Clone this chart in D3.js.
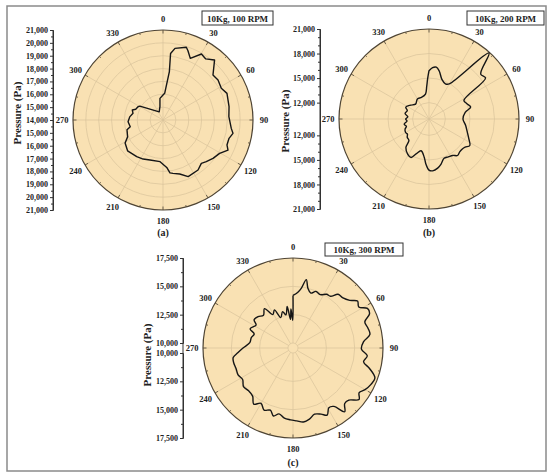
<!DOCTYPE html>
<html>
<head>
<meta charset="utf-8">
<script src="https://cdn.jsdelivr.net/npm/d3@7"></script>
<style>
  body { margin: 0; background: #fff; }
  svg text { font-family: "Liberation Serif", "DejaVu Serif", serif; font-weight: bold; fill: #222; }
</style>
</head>
<body>
<div id="chart"></div>
<script>
// angle labels shared by all three dials
const angleLabels = [0, 30, 60, 90, 120, 150, 180, 210, 240, 270, 300, 330];

// (a) 10Kg, 100 RPM
const anglesA = [0, 3.6, 7.5, 6.5, 9.5, 17.8, 19.8, 23.9, 30.2, 35, 40.7, 48, 54, 61.5, 67.4, 78.6, 87, 97, 100.8, 105.5, 111.3, 114.8, 120.5, 127.5, 133.9, 138.5, 145, 156, 162.8, 169.4, 172.5, 175.5, 184, 198, 207, 215.6, 229, 238.7, 244.5, 254.8, 258.4, 267, 275.4, 282.6, 288, 291.4, 298, 301, 335, 347, 352, 360];
const pressureA = [15950, 16080, 17800, 19200, 19650, 19940, 19730, 19240, 19940, 19800, 20150, 19230, 19290, 19160, 19390, 19240, 19130, 19350, 19540, 19330, 19340, 19570, 19110, 18900, 18670, 18500, 18750, 18820, 18400, 18220, 18150, 17700, 17250, 17270, 17410, 17510, 17650, 17450, 17050, 16900, 16600, 16720, 16600, 16390, 16510, 16280, 16200, 16100, 14700, 15060, 15700, 15950];
const ringsA = [15000, 16000, 17000, 18000, 19000, 20000];
const ticksA = [14000, 15000, 16000, 17000, 18000, 19000, 20000, 21000];
const minorA = [14500, 15500, 16500, 17500, 18500, 19500, 20500];

// (b) 10Kg, 200 RPM
const anglesB = [0, 4, 8, 12, 18, 25, 30, 42.3, 49, 54, 62, 68, 74, 79.5, 90, 100, 108, 116.6, 123, 128, 132, 137, 142, 147, 153, 159, 165, 170, 176, 180, 184, 187, 194, 200, 205, 211, 219, 223, 230, 235, 240, 247, 252, 258, 265, 270, 276, 283, 291, 297, 307, 318, 330, 341, 352, 356, 358, 360];
const pressureB = [15900, 16300, 16400, 16000, 15100, 14750, 14950, 20900, 18370, 18550, 14830, 15000, 15300, 14500, 14150, 14550, 14900, 15450, 15950, 15600, 15480, 15500, 15660, 15310, 15200, 15140, 15700, 16100, 16350, 16250, 15500, 14730, 14000, 14500, 15190, 15030, 14490, 13600, 13470, 13220, 13300, 13180, 12900, 13100, 12700, 12850, 12600, 13000, 12840, 13190, 12820, 12450, 12830, 12800, 13080, 14000, 14900, 15900];
const ringsB = [12000, 15000, 18000];
const ticksB = [12000, 15000, 18000, 21000];
const minorB = [13000, 14000, 16000, 17000, 19000, 20000];

// (c) 10Kg, 300 RPM
const anglesC = [0, 5, 8, 11, 14, 18, 22, 27, 32, 36, 40, 45, 50, 54, 58, 62, 66, 70, 75, 80, 85, 91, 96, 101, 105, 110, 115, 120, 124, 128, 133, 137, 141, 145, 149, 153, 157, 162, 167, 172, 177, 182, 187, 192, 196, 200, 205, 210, 215, 220, 226, 232, 238, 244, 250, 256, 261, 265, 270, 277, 284, 290, 294, 302, 306, 312, 318, 324, 329, 334, 338, 344, 348, 352, 355, 357, 359.5, 360];
const pressureC = [14200, 14500, 14900, 15700, 15000, 14650, 14950, 14850, 15150, 15200, 15750, 15800, 16100, 16600, 16400, 17000, 16950, 16300, 16400, 16450, 15800, 15600, 16150, 15900, 16550, 17250, 17150, 16900, 16600, 16950, 16300, 16250, 16800, 15850, 15700, 16200, 15900, 15700, 16000, 16150, 16000, 15900, 15800, 15500, 15800, 15400, 15600, 15200, 15600, 15100, 15000, 15100, 14800, 14950, 14900, 14950, 14900, 14450, 13970, 13400, 13350, 13200, 13700, 13400, 13800, 13700, 13450, 13850, 13000, 13300, 12450, 12900, 12550, 13250, 12100, 13000, 12000, 14200];
const ringsC = [12500, 15000];
const ticksC = [10000, 12500, 15000, 17500];
const minorC = [11250, 13750, 16250];

const width = 550;
const height = 476;
const fmt = d3.format(",");

const svg = d3
  .select("#chart")
  .append("svg")
  .attr("width", width)
  .attr("height", height);

// outer frame
svg
  .append("rect")
  .attr("x", 7)
  .attr("y", 6)
  .attr("width", 539)
  .attr("height", 465)
  .attr("fill", "none")
  .attr("stroke", "#8a8a8a")
  .attr("stroke-width", 1.5);

function drawPanel({
  cx, cy, outer = 90, inner = 0, domain, rings, ticks, minor,
  angles, values, curve, axisX, titleX, titleY, legend, legendBox, tag, tagY,
}) {
  const g = svg.append("g");
  const r = d3.scaleLinear().domain(domain).range([inner, outer]);

  const dial = g.append("g").attr("transform", `translate(${cx},${cy})`);

  dial
    .append("circle")
    .attr("r", outer)
    .attr("fill", "#f9e1b3");

  // grid rings
  dial
    .selectAll("circle.ring")
    .data(rings)
    .join("circle")
    .attr("class", "ring")
    .attr("r", (d) => r(d))
    .attr("fill", "none")
    .attr("stroke", "#d8c39b")
    .attr("stroke-width", 0.7);

  if (inner > 0) {
    dial
      .append("circle")
      .attr("r", inner)
      .attr("fill", "none")
      .attr("stroke", "#d8c39b")
      .attr("stroke-width", 0.7);
  }

  // spokes
  const toRad = (a) => (a * Math.PI) / 180;
  dial
    .selectAll("line.spoke")
    .data(angleLabels)
    .join("line")
    .attr("class", "spoke")
    .attr("x1", (d) => inner * Math.sin(toRad(d)))
    .attr("y1", (d) => -inner * Math.cos(toRad(d)))
    .attr("x2", (d) => outer * Math.sin(toRad(d)))
    .attr("y2", (d) => -outer * Math.cos(toRad(d)))
    .attr("stroke", "#d8c39b")
    .attr("stroke-width", 0.7);

  // outer ring + angular ticks
  dial
    .append("circle")
    .attr("r", outer)
    .attr("fill", "none")
    .attr("stroke", "#4e4434")
    .attr("stroke-width", 1.2);

  dial
    .selectAll("line.atick")
    .data(d3.range(0, 360, 15))
    .join("line")
    .attr("class", "atick")
    .attr("x1", (d) => outer * Math.sin(toRad(d)))
    .attr("y1", (d) => -outer * Math.cos(toRad(d)))
    .attr("x2", (d) => (outer - (d % 30 ? 2 : 3.5)) * Math.sin(toRad(d)))
    .attr("y2", (d) => -(outer - (d % 30 ? 2 : 3.5)) * Math.cos(toRad(d)))
    .attr("stroke", "#4e4434")
    .attr("stroke-width", 0.8);

  // data curve
  const points = angles.map((a, i) => ({ a, v: values[i] }));
  const line = d3
    .lineRadial()
    .angle((d) => toRad(d.a))
    .radius((d) => r(d.v))
    .curve(curve);

  dial
    .append("path")
    .datum(points)
    .attr("d", line)
    .attr("fill", "none")
    .attr("stroke", "#161616")
    .attr("stroke-width", 1.4)
    .attr("stroke-linejoin", "round");

  // angle labels
  dial
    .selectAll("text.alabel")
    .data(angleLabels)
    .join("text")
    .attr("class", "alabel")
    .attr("x", (d) => (outer + 11) * Math.sin(toRad(d)))
    .attr("y", (d) => -(outer + 11) * Math.cos(toRad(d)))
    .attr("text-anchor", "middle")
    .attr("dominant-baseline", "central")
    .style("font-size", "8.5px")
    .text((d) => d);

  // mirrored radial axis on the left
  const yTop = d3.scaleLinear().domain(domain).range([cy - inner, cy - outer]);
  const yBot = d3.scaleLinear().domain(domain).range([cy + inner, cy + outer]);
  const bottomTicks = inner > 0 ? ticks : ticks.filter((t) => t !== domain[0]);

  for (const [scale, tv] of [[yTop, ticks], [yBot, bottomTicks]]) {
    const ax = g.append("g").attr("transform", `translate(${axisX},0)`);
    ax.call(
      d3.axisLeft(scale).tickValues(tv).tickSize(3).tickSizeOuter(0).tickPadding(2).tickFormat(fmt)
    );
    ax.append("g").call(
      d3.axisLeft(scale).tickValues(minor).tickSize(2).tickSizeOuter(0).tickFormat("")
    );
    ax.selectAll("path.domain").attr("stroke", "#333");
    ax.selectAll(".tick line").attr("stroke", "#333");
    ax.selectAll(".tick text")
      .style("font-size", "8px")
      .style("font-family", '"Liberation Serif", serif')
      .attr("fill", "#222");
  }
  g.append("line")
    .attr("x1", axisX)
    .attr("x2", axisX)
    .attr("y1", cy - outer)
    .attr("y2", cy + outer)
    .attr("stroke", "#333");

  g.append("text")
    .attr("transform", `translate(${titleX},${titleY}) rotate(-90)`)
    .attr("text-anchor", "middle")
    .attr("dominant-baseline", "central")
    .style("font-size", "11px")
    .text("Pressure (Pa)");

  // legend box
  const [bx, by, bw, bh] = legendBox;
  g.append("rect")
    .attr("x", bx)
    .attr("y", by)
    .attr("width", bw)
    .attr("height", bh)
    .attr("fill", "#fff")
    .attr("stroke", "#333")
    .attr("stroke-width", 1);
  g.append("text")
    .attr("x", bx + bw / 2)
    .attr("y", by + bh / 2 + 0.5)
    .attr("text-anchor", "middle")
    .attr("dominant-baseline", "central")
    .style("font-size", "9px")
    .text(legend);

  g.append("text")
    .attr("x", cx)
    .attr("y", tagY)
    .attr("text-anchor", "middle")
    .attr("dominant-baseline", "central")
    .style("font-size", "10px")
    .text(tag);
}

drawPanel({
  cx: 163, cy: 120, domain: [14000, 21000],
  rings: ringsA, ticks: ticksA, minor: minorA,
  angles: anglesA, values: pressureA, curve: d3.curveLinear,
  axisX: 53, titleX: 17, titleY: 113,
  legend: "10Kg, 100 RPM", legendBox: [202, 11, 71, 14], tag: "(a)", tagY: 232,
});

drawPanel({
  cx: 429, cy: 119, domain: [10000, 21000],
  rings: ringsB, ticks: ticksB, minor: minorB,
  angles: anglesB, values: pressureB, curve: d3.curveCatmullRom.alpha(0.5),
  axisX: 320, titleX: 285, titleY: 121,
  legend: "10Kg, 200 RPM", legendBox: [467, 11, 77, 14], tag: "(b)", tagY: 232,
});

drawPanel({
  cx: 293, cy: 348, inner: 5, domain: [10000, 17500],
  rings: ringsC, ticks: ticksC, minor: minorC,
  angles: anglesC, values: pressureC, curve: d3.curveCatmullRom.alpha(0.5),
  axisX: 183, titleX: 147, titleY: 355,
  legend: "10Kg, 300 RPM", legendBox: [325, 243, 78, 13], tag: "(c)", tagY: 462,
});
</script>
</body>
</html>
